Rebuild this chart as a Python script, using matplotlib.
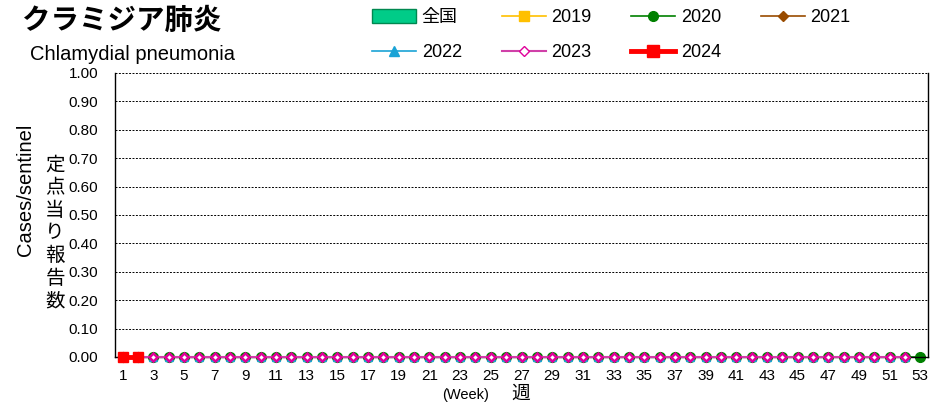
import matplotlib
matplotlib.use("Agg")
import matplotlib.pyplot as plt
from matplotlib.patches import Patch
from matplotlib.lines import Line2D

plt.rcParams["font.family"] = ["Liberation Sans", "Noto Sans CJK JP", "DejaVu Sans"]

weeks_52 = list(range(1, 53))
weeks_53 = list(range(1, 54))
national = [0.0] * 52
y2019 = [0.0] * 52
y2020 = [0.0] * 53
y2021 = [0.0] * 52
y2022 = [0.0] * 52
y2023 = [0.0] * 52
weeks_2024 = [1, 2]
y2024 = [0.0, 0.0]

fig = plt.figure(figsize=(9.46, 4.03), dpi=100)
ax = fig.add_axes([115 / 946, 1 - 357 / 403, 813 / 946, 284 / 403])

ax.bar(weeks_52, national, width=0.8, color="#00cc88", edgecolor="#008850", zorder=1)
ax.plot(weeks_52, y2019, color="#ffc000", marker="s", ms=5, lw=1.2, zorder=2)
ax.plot(weeks_53, y2020, color="#008000", marker="o", ms=7, lw=1.2, zorder=2)
ax.plot(weeks_52, y2021, color="#994c00", marker="D", ms=4, lw=1.2, zorder=3)
ax.plot(weeks_52, y2022, color="#1aa3d6", marker="^", ms=6, lw=1.2, zorder=4)
ax.plot(weeks_52, y2023, color="#d040a8", marker="D", ms=4.5, mfc="white",
        mec="#e0009a", mew=1.8, lw=1.5, zorder=5)
ax.plot(weeks_2024, y2024, color="#ff0000", marker="s", ms=7, lw=3.5, zorder=6)

ax.set_xlim(0.5, 53.5)
ax.set_ylim(0, 1.0)
ax.set_xticks(range(1, 54, 2))
ax.set_yticks([i / 10 for i in range(11)])
ax.set_yticklabels([f"{i / 10:.2f}" for i in range(11)])
ax.tick_params(axis="both", labelsize=11, length=3, direction="out")
ax.tick_params(axis="y", pad=12, length=0)
ax.tick_params(axis="x", length=0, pad=9)
ax.yaxis.grid(True, linestyle=(0, (2, 1.5)), color="black", linewidth=0.7)
ax.set_axisbelow(True)
ax.spines["top"].set_visible(False)
for s in ["left", "right", "bottom"]:
    ax.spines[s].set_linewidth(1.0)
for line in ax.lines:
    line.set_clip_on(False)

fig.text(22 / 946, 1 - 21 / 403, "クラミジア肺炎", fontsize=20.5, fontweight="bold",
         family=["Noto Sans CJK JP"], va="center", ha="left")
fig.text(30 / 946, 1 - 54 / 403, "Chlamydial pneumonia", fontsize=14.5, va="center", ha="left")
fig.text(25 / 946, 1 - 190 / 403, "Cases/sentinel", fontsize=14.5, rotation=90,
         va="center", ha="center")
fig.text(55 / 946, 1 - 233 / 403, "\n".join("定点当り報告数"), fontsize=14,
         family=["Noto Sans CJK JP"], va="center", ha="center", linespacing=1.1)
fig.text(466 / 946, 1 - 395 / 403, "(Week)", fontsize=10.5, va="center", ha="center")
fig.text(521 / 946, 1 - 393 / 403, "週", fontsize=13.5, family=["Noto Sans CJK JP"],
         va="center", ha="center")

h_nat = Patch(facecolor="#00cc88", edgecolor="#008850")
h19 = Line2D([], [], color="#ffc000", marker="s", ms=7, lw=1.2)
h20 = Line2D([], [], color="#008000", marker="o", ms=7, lw=1.2)
h21 = Line2D([], [], color="#994c00", marker="D", ms=5, lw=1.2)
h22 = Line2D([], [], color="#1aa3d6", marker="^", ms=7, lw=1.2)
h23 = Line2D([], [], color="#d040a8", marker="D", ms=5, mfc="white", mec="#e0009a", lw=1.5)
h24 = Line2D([], [], color="#ff0000", marker="s", ms=8, lw=3.5)
# matplotlib fills legend columns first; reorder so rows read 全国..2021 / 2022..2024
handles = [h_nat, h22, h19, h23, h20, h24, h21]
labels = ["全国", "2022", "2019", "2023", "2020", "2024", "2021"]
fig.legend(handles, labels, ncol=4, loc="upper left",
           bbox_to_anchor=(372 / 946, 1 - 9 / 403), frameon=False,
           handlelength=2.45, handleheight=0.8, handletextpad=0.3,
           columnspacing=2.2, labelspacing=1.0, borderpad=0, borderaxespad=0,
           prop={"family": ["Liberation Sans", "Noto Sans CJK JP"], "size": 13})

fig.savefig("out.png", dpi=100)
